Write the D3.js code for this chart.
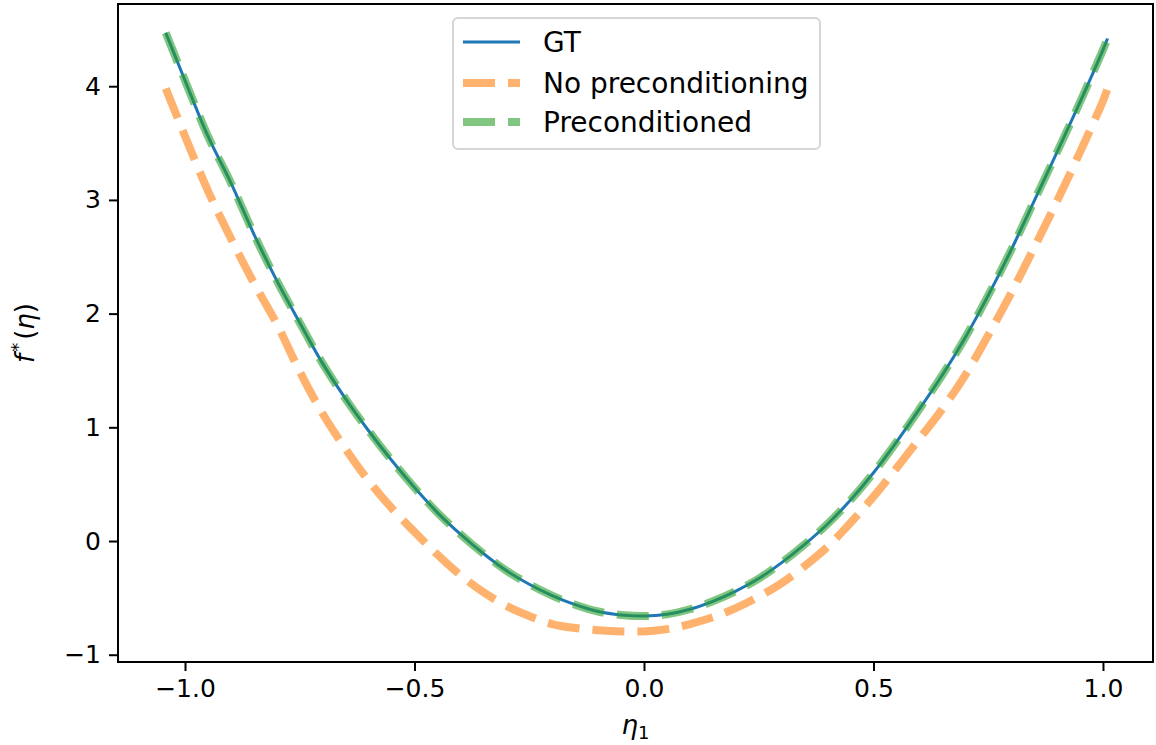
<!DOCTYPE html>
<html><head><meta charset="utf-8">
<script src="https://cdn.jsdelivr.net/npm/d3@7"></script>
<style>
body{margin:0;background:#fff}
svg{display:block}
text{font-family:"DejaVu Sans",sans-serif;fill:#000}
</style>
</head><body>
<svg id="chart" width="1156" height="745"></svg>
<script>
// ---- data ----
const eta = [-1.042,-1.0,-0.95,-0.9,-0.85,-0.8,-0.75,-0.7,-0.65,-0.6,-0.55,-0.5,-0.45,-0.4,-0.35,-0.3,-0.25,-0.2,-0.15,-0.1,-0.05,
  0.0,0.05,0.1,0.15,0.2,0.25,0.3,0.35,0.4,0.45,0.5,0.55,0.6,0.65,0.7,0.75,0.8,0.85,0.9,0.95,1.0,1.01];
const gtValues = [4.47,4.05,3.56,3.15,2.70,2.29,1.92,1.56,1.25,0.97,0.71,0.47,0.25,0.06,-0.11,-0.26,-0.38,-0.48,-0.56,-0.62,-0.65,
  -0.66,-0.645,-0.60,-0.53,-0.44,-0.33,-0.19,-0.03,0.15,0.36,0.60,0.87,1.16,1.46,1.79,2.16,2.56,2.99,3.42,3.86,4.32,4.42];
const noPrecondValues = [3.98,3.56,3.08,2.66,2.27,1.91,1.49,1.12,0.81,0.53,0.29,0.08,-0.12,-0.30,-0.45,-0.57,-0.66,-0.73,-0.765,-0.785,-0.795,
  -0.795,-0.775,-0.73,-0.67,-0.59,-0.49,-0.37,-0.22,-0.05,0.16,0.39,0.64,0.90,1.16,1.46,1.81,2.18,2.58,2.99,3.42,3.87,3.98];
const precondValues = [4.47,4.05,3.56,3.15,2.70,2.29,1.92,1.56,1.25,0.97,0.71,0.47,0.25,0.06,-0.11,-0.26,-0.38,-0.48,-0.56,-0.62,-0.65,
  -0.66,-0.645,-0.60,-0.53,-0.44,-0.33,-0.19,-0.03,0.15,0.36,0.60,0.87,1.16,1.46,1.79,2.16,2.56,2.99,3.42,3.86,4.32,4.42];
const xTickValues = [-1.0,-0.5,0.0,0.5,1.0];
const yTickValues = [-1,0,1,2,3,4];
const seriesNames = ["GT","No preconditioning","Preconditioned"];
const seriesColors = ["#1f77b4","#ff7f0e","#2ca02c"];

// ---- layout ----
const svg = d3.select("#chart");
const L = 118, R = 1153, T = 4, B = 662;
const x = d3.scaleLinear().domain([-1.146, 1.109]).range([L, R]);
const y = d3.scaleLinear().domain([-1.064, 4.723]).range([B, T]);
const minus = s => s.replace("-", "\u2212");

svg.append("defs").append("clipPath").attr("id","clip")
  .append("rect").attr("x",L).attr("y",T).attr("width",R-L).attr("height",B-T);

const line = d3.line().x(d => x(d[0])).y(d => y(d[1])).curve(d3.curveCatmullRom);
const g = svg.append("g").attr("clip-path","url(#clip)");

const series = [
  {vals: gtValues, color: seriesColors[0], w: 3, dash: null, op: 1},
  {vals: noPrecondValues, color: seriesColors[1], w: 8, dash: "32,13", op: 0.6},
  {vals: precondValues, color: seriesColors[2], w: 8, dash: "32,13", op: 0.6}
];
series.forEach(s => {
  g.append("path")
    .datum(eta.map((e,i) => [e, s.vals[i]]))
    .attr("d", line)
    .attr("fill","none")
    .attr("stroke", s.color)
    .attr("stroke-width", s.w)
    .attr("stroke-opacity", s.op)
    .attr("stroke-dasharray", s.dash);
});

// axes
const xAxis = d3.axisBottom(x).tickValues(xTickValues).tickSize(9).tickPadding(8)
  .tickFormat(d => minus(d3.format(".1f")(d)));
const yAxis = d3.axisLeft(y).tickValues(yTickValues).tickSize(9).tickPadding(8)
  .tickFormat(d => minus(d3.format("d")(d)));
const gx = svg.append("g").attr("transform",`translate(0,${B})`).call(xAxis);
const gy = svg.append("g").attr("transform",`translate(${L},0)`).call(yAxis);
[gx,gy].forEach(a => {
  a.select(".domain").remove();
  a.selectAll(".tick line").attr("stroke","#000").attr("stroke-width",2);
  a.selectAll(".tick text").attr("font-size",25).attr("font-family","DejaVu Sans").attr("fill","#000");
});

// frame
svg.append("rect").attr("x",L).attr("y",T).attr("width",R-L).attr("height",B-T)
  .attr("fill","none").attr("stroke","#000").attr("stroke-width",2);

// axis labels
const xl = svg.append("text").attr("x",(L+R)/2).attr("y",734).attr("text-anchor","middle").attr("font-size",26);
xl.append("tspan").attr("font-style","italic").text("η");
xl.append("tspan").attr("font-size",18).attr("dy",5).text("1");

const yl = svg.append("text").attr("transform",`translate(34,${(T+B)/2}) rotate(-90)`)
  .attr("text-anchor","middle").attr("font-size",26);
yl.append("tspan").attr("font-style","italic").text("f");
yl.append("tspan").attr("font-size",18).attr("dx",2).attr("dy",-10).text("*");
yl.append("tspan").attr("dx",3).attr("dy",10).text("(");
yl.append("tspan").attr("font-style","italic").text("η");
yl.append("tspan").text(")");

// legend
const lg = svg.append("g");
lg.append("rect").attr("x",453).attr("y",18).attr("width",367).attr("height",131)
  .attr("rx",5).attr("fill","#fff").attr("fill-opacity",0.8).attr("stroke","#d5d5d5").attr("stroke-width",2);
const rowY = [42, 83, 122];
series.forEach((s,i) => {
  lg.append("line").attr("x1",463).attr("x2",520).attr("y1",rowY[i]).attr("y2",rowY[i])
    .attr("stroke",s.color).attr("stroke-width",s.w).attr("stroke-opacity",s.op)
    .attr("stroke-dasharray",s.dash);
  lg.append("text").attr("x",543).attr("y",rowY[i]).attr("dy","0.36em")
    .attr("font-size",28).text(seriesNames[i]);
});
</script>
</body></html>
